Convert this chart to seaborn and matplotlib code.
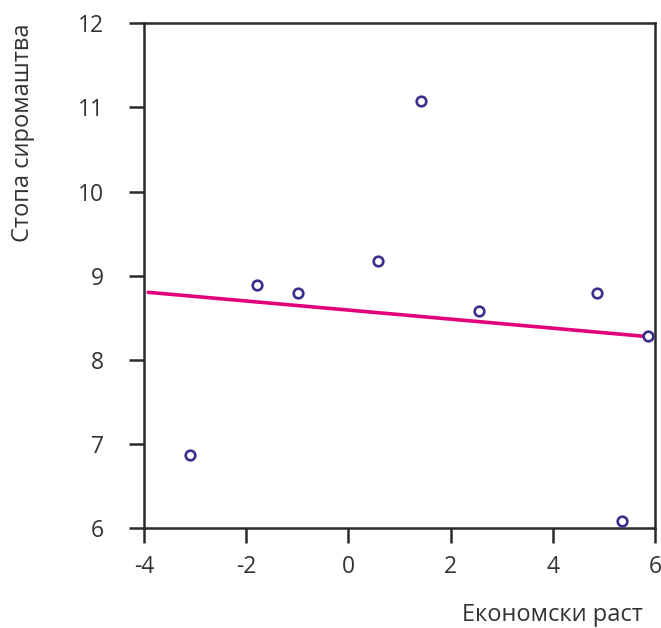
import numpy as np
import pandas as pd
import matplotlib
matplotlib.use("Agg")
import matplotlib.pyplot as plt
import seaborn as sns

growth = [-3.1, -1.8, -0.98, 0.57, 1.41, 2.55, 4.86, 5.35, 5.86]
poverty = [6.87, 8.89, 8.79, 9.17, 11.08, 8.58, 8.79, 6.08, 8.28]
x_ticks = [-4, -2, 0, 2, 4, 6]
y_ticks = [6, 7, 8, 9, 10, 11, 12]
x_label = "Економски раст"
y_label = "Стопа сиромаштва"

sns.set_style("ticks")
plt.rcParams['font.family'] = ['Open Sans', 'DejaVu Sans']

df = pd.DataFrame({"x": growth, "y": poverty})
slope, intercept = np.polyfit(df["x"], df["y"], 1)
line_x = [-3.92, 5.86]
line_df = pd.DataFrame({"x": line_x, "y": [slope * v + intercept for v in line_x]})

fig = plt.figure(figsize=(6.61, 6.28), dpi=100)
ax = fig.add_axes([0.218, 0.159, 0.773, 0.804])

sns.lineplot(data=line_df, x="x", y="y", ax=ax, color="#e2007a", linewidth=2.6)
sns.scatterplot(data=df, x="x", y="y", ax=ax, marker="o", s=48,
                facecolor="white", edgecolor="#3b2e8c", linewidth=1.9, zorder=3)

ax.set_xlim(-4, 6)
ax.set_ylim(6, 12)
ax.set_xticks(x_ticks)
ax.set_yticks(y_ticks)
ax.set_xticklabels([str(t) for t in x_ticks])
ax.set_yticklabels([str(t) for t in y_ticks])

for s in ax.spines.values():
    s.set_color("#2b2b2b")
    s.set_linewidth(1.8)
ax.tick_params(axis="both", direction="out", length=11, width=1.8, color="#2b2b2b",
               labelsize=16.5, labelcolor="#333333")
ax.tick_params(axis="x", pad=8)
ax.tick_params(axis="y", pad=18)

ax.set_xlabel(x_label, loc="right", fontsize=17, color="#333333")
ax.set_ylabel(y_label, loc="top", fontsize=17, color="#333333")
ax.xaxis.set_label_coords(0.977, -0.149)
ax.yaxis.set_label_coords(-0.213, 1.0)

fig.savefig("out.png", dpi=100)
